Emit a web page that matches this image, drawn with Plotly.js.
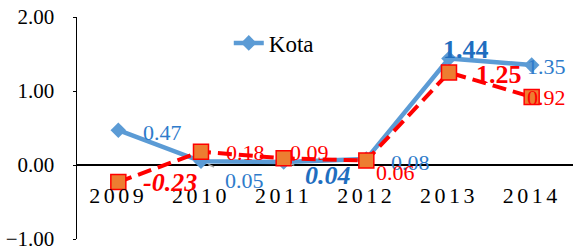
<!DOCTYPE html>
<html>
<head>
<meta charset="utf-8">
<script src="https://cdn.plot.ly/plotly-3.0.1.min.js"></script>
<style>
  html, body { margin: 0; padding: 0; background: #fff; }
  #chart { width: 573px; height: 252px; }
  .xtick text { letter-spacing: 3.5px; }
</style>
</head>
<body>
<div id="chart"></div>
<script>
// ---- data ----
const years = ['2009', '2010', '2011', '2012', '2013', '2014'];
const kotaValues = [0.47, 0.05, 0.04, 0.08, 1.44, 1.35];
const kabValues = [-0.23, 0.18, 0.09, 0.06, 1.25, 0.92];
const yTickValues = [-1, 0, 1, 2];

// ---- styles ----
const FONT = 'Liberation Serif';
const BLUE = '#5B9BD5';
const BLUE_TXT = '#2E7BCB';
const BLUE_TXT_BOLD = '#1F6EBF';
const RED = '#FF0000';
const ORANGE = '#ED7D31';

// label placement (pixel offsets from each point) and style
const kotaLabelStyle = [
  {dx: 24, dy: 2},
  {dx: 24, dy: 19, leader: true},
  {dx: 22, dy: 13, bold: true, italic: true, leader: true},
  {dx: 24, dy: 3},
  {dx: -7, dy: -9, bold: true},
  {dx: -6, dy: 1}
];
const kabLabelStyle = [
  {dx: 24, dy: 0, bold: true, italic: true},
  {dx: 24, dy: 1},
  {dx: 5, dy: -6},
  {dx: 9, dy: 12},
  {dx: 26, dy: 1.5, bold: true},
  {dx: -6, dy: 0.5}
];

function makeLabels(values, styles, color, boldColor) {
  return values.map((v, i) => {
    const s = styles[i];
    const size = s.bold ? 26 : 22;
    const font = {
      family: FONT, size: size,
      color: s.bold ? boldColor : color,
      weight: s.bold ? 700 : 400,
      style: s.italic ? 'italic' : 'normal'
    };
    const txt = v.toFixed(2);
    // category axis: annotation x is the category index of years[i]
    const xi = years.indexOf(years[i]);
    if (s.leader) {
      const w = txt.length * 0.5 * size - 0.25 * size;
      return {
        x: xi, y: v, xref: 'x', yref: 'y', text: txt, font: font,
        showarrow: true, arrowhead: 0, arrowwidth: 1.5, arrowcolor: '#A6A6A6',
        ax: s.dx + w / 2, ay: s.dy,
        standoff: 8, startstandoff: 10
      };
    }
    return {
      x: xi, y: v, xref: 'x', yref: 'y', text: txt, font: font,
      showarrow: false, xanchor: 'left', yanchor: 'middle',
      xshift: s.dx - 1, yshift: -s.dy
    };
  });
}

const traces = [
  {
    type: 'scatter', mode: 'lines+markers', name: 'Kota',
    x: years, y: kotaValues,
    line: {color: BLUE, width: 4.5},
    marker: {symbol: 'diamond', size: 12, color: BLUE},
    showlegend: true
  },
  {
    type: 'scatter', mode: 'lines+markers', name: 'Kabupaten',
    x: years, y: kabValues,
    line: {color: RED, width: 4, dash: '14px,7px'},
    marker: {symbol: 'square', size: 15, color: ORANGE, line: {color: RED, width: 1.5}},
    showlegend: false
  }
];

const layout = {
  width: 573, height: 252,
  margin: {l: 77, r: 0, t: 17, b: 13, pad: 0},
  paper_bgcolor: '#fff', plot_bgcolor: '#fff',
  font: {family: FONT, color: '#000'},
  xaxis: {
    type: 'category', categoryorder: 'array', categoryarray: years,
    range: [-0.5, 5.5], anchor: 'free', position: 1/3,
    showline: false, showgrid: false, zeroline: false, ticks: '',
    tickfont: {family: FONT, size: 22, color: '#000'},
    ticklabelstandoff: 15
  },
  yaxis: {
    range: [-1, 2], tickvals: yTickValues, tickformat: '.2f',
    showgrid: false, zeroline: true, zerolinecolor: '#000', zerolinewidth: 1.5,
    showline: true, linecolor: '#000', linewidth: 1.5,
    ticks: 'outside', ticklen: 3, tickcolor: '#000', tickwidth: 1,
    tickfont: {family: FONT, size: 21, color: '#000'},
    ticklabelstandoff: 14
  },
  showlegend: true,
  legend: {
    x: 0.306, y: 0.883, xanchor: 'left', yanchor: 'middle',
    bgcolor: 'rgba(0,0,0,0)', borderwidth: 0,
    font: {family: FONT, size: 23, color: '#000'}
  },
  annotations: makeLabels(kotaValues, kotaLabelStyle, BLUE_TXT, BLUE_TXT_BOLD)
    .concat(makeLabels(kabValues, kabLabelStyle, RED, RED))
};

Plotly.newPlot('chart', traces, layout, {displayModeBar: false, staticPlot: true});
</script>
</body>
</html>
